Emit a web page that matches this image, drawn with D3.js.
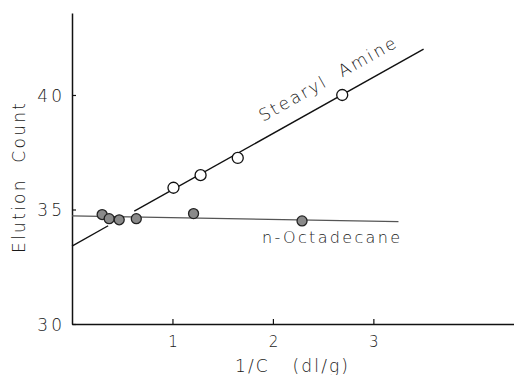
<!DOCTYPE html>
<html>
<head>
<meta charset="utf-8">
<script src="https://cdn.jsdelivr.net/npm/d3@7/dist/d3.min.js"></script>
<style>
html,body{margin:0;padding:0;background:#fff;}
svg{display:block;}
text{font-family:"DejaVu Sans",sans-serif;font-weight:200;fill:#1a1a1a;}
</style>
</head>
<body>
<svg id="chart" width="514" height="375"></svg>
<script>
// ---- data ----
const amineX = [1.01, 1.28, 1.65, 2.69];
const amineY = [35.95, 36.5, 37.25, 40.0];
const octX = [0.30, 0.37, 0.47, 0.64, 1.21, 2.29];
const octY = [34.78, 34.6, 34.55, 34.6, 34.82, 34.5];
// fitted lines (segments: [x0, y0, x1, y1])
const amineLineSegs = [[0, 33.4, 0.36, 34.29], [0.62, 34.93, 3.5, 42.0]];
const octLineSegs = [[0, 34.72, 3.25, 34.47]];
const xTicks = [1, 2, 3];
const yTicks = [30, 35, 40];
const xTitle = "1/C   (dl/g)";
const yTitle = "Elution  Count";
const amineLabel = "Stearyl  Amine";
const octLabel = "n-Octadecane";

const svg = d3.select("#chart");
const x = d3.scaleLinear().domain([0, 4.4]).range([72, 514]);
const y = d3.scaleLinear().domain([30, 43.58]).range([324, 13]);
const FONT = "'DejaVu Sans', sans-serif";

// axes
const xAxis = d3.axisBottom(x).tickValues(xTicks).tickFormat(d3.format("d"))
  .tickSizeInner(-5).tickSizeOuter(0).tickPadding(12);
const gx = svg.append("g").attr("transform", `translate(0,${y(30)})`).call(xAxis);
const yAxis = d3.axisLeft(y).tickValues(yTicks).tickFormat(d3.format("d"))
  .tickSizeInner(-4).tickSizeOuter(0).tickPadding(10);
const gy = svg.append("g").attr("transform", `translate(${x(0)},0)`).call(yAxis);
[gx, gy].forEach(g => {
  g.select(".domain").attr("stroke", "#111").attr("stroke-width", 1.5);
  g.selectAll(".tick line").attr("stroke", "#111").attr("stroke-width", 1.2);
  g.selectAll(".tick text").style("font-family", FONT).style("font-weight", 200).attr("fill", "#1a1a1a");
});
gx.selectAll(".tick text").style("font-size", "15px");
gy.selectAll(".tick text").style("font-size", "17px").attr("letter-spacing", "3px")
  .attr("dx", "3px").attr("dy", "0.36em");

// lines
svg.append("g").selectAll("line").data(octLineSegs).join("line")
  .attr("x1", d => x(d[0])).attr("y1", d => y(d[1]))
  .attr("x2", d => x(d[2])).attr("y2", d => y(d[3]))
  .attr("stroke", "#555").attr("stroke-width", 1.1);
svg.append("g").selectAll("line").data(amineLineSegs).join("line")
  .attr("x1", d => x(d[0])).attr("y1", d => y(d[1]))
  .attr("x2", d => x(d[2])).attr("y2", d => y(d[3]))
  .attr("stroke", "#111").attr("stroke-width", 1.4);

// points
svg.append("g").selectAll("circle").data(amineX.map((v, i) => [v, amineY[i]])).join("circle")
  .attr("cx", d => x(d[0])).attr("cy", d => y(d[1])).attr("r", 5.5)
  .attr("fill", "#fff").attr("stroke", "#111").attr("stroke-width", 1.3);
svg.append("g").selectAll("circle").data(octX.map((v, i) => [v, octY[i]])).join("circle")
  .attr("cx", d => x(d[0])).attr("cy", d => y(d[1])).attr("r", 5)
  .attr("fill", "#8a8a8a").attr("stroke", "#222").attr("stroke-width", 1.3);

// labels
const ang = Math.atan2(y(42.0) - y(34.93), x(3.5) - x(0.62)) * 180 / Math.PI;
svg.append("text").attr("transform", `translate(263,122) rotate(${ang})`)
  .style("font-size", "17px").style("white-space", "pre")
  .attr("textLength", 154).attr("lengthAdjust", "spacing").text(amineLabel);
svg.append("text").attr("x", 262).attr("y", 243)
  .style("font-size", "16px")
  .attr("textLength", 138).attr("lengthAdjust", "spacing").text(octLabel);
svg.append("text").attr("x", 235).attr("y", 372)
  .style("font-size", "17px").style("white-space", "pre")
  .attr("textLength", 113).attr("lengthAdjust", "spacing").text(xTitle);
svg.append("text").attr("transform", "translate(25,253) rotate(-90)")
  .style("font-size", "17px").style("white-space", "pre")
  .attr("textLength", 150).attr("lengthAdjust", "spacing").text(yTitle);
</script>
</body>
</html>
